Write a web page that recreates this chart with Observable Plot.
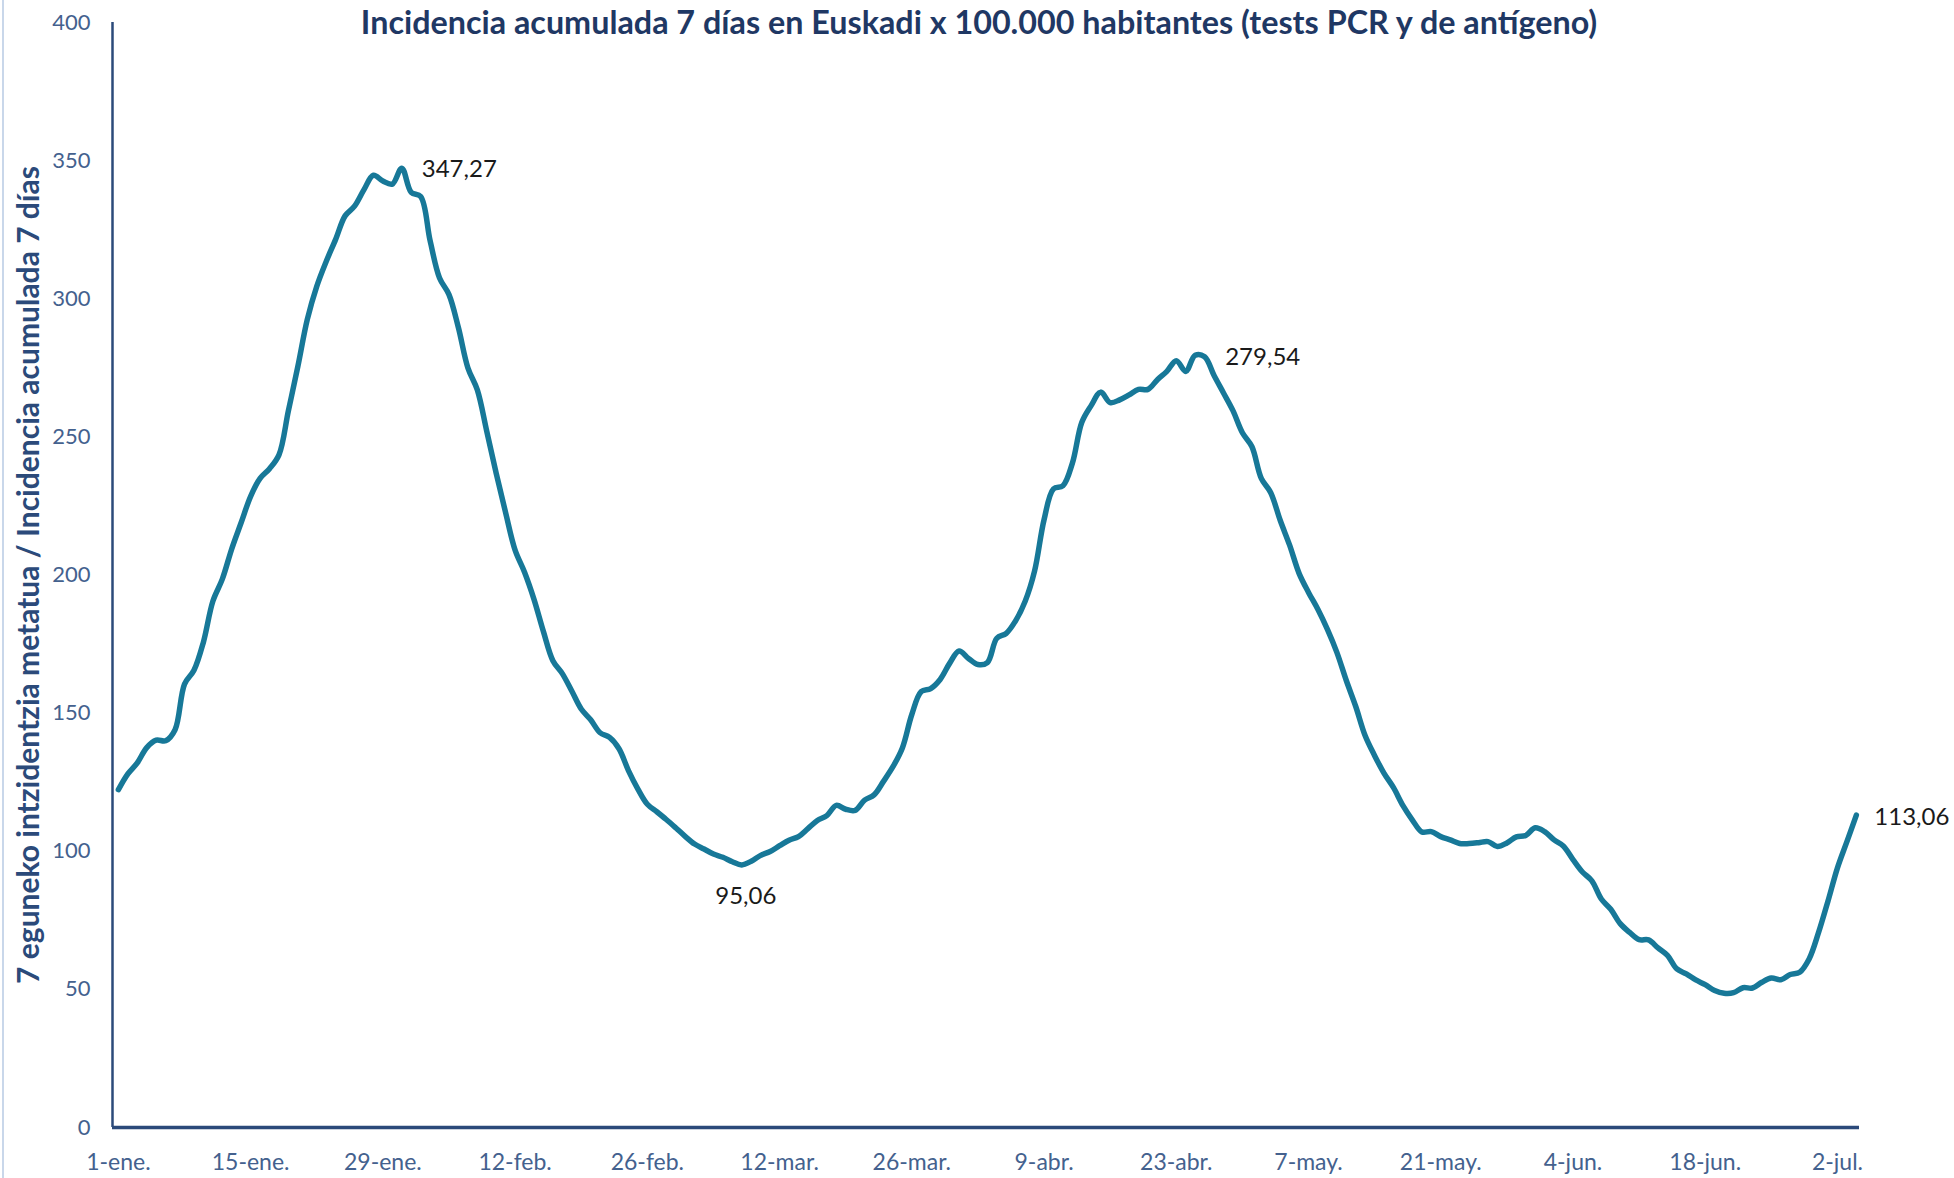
<!DOCTYPE html>
<html><head><meta charset="utf-8">
<script src="https://cdn.jsdelivr.net/npm/d3@7"></script>
<script src="https://cdn.jsdelivr.net/npm/@observablehq/plot@0.6"></script>
<style>
html,body{margin:0;padding:0;background:#fff;overflow:hidden}
#chart{position:relative;width:1954px;height:1178px;overflow:hidden}
</style></head><body><div id="chart"></div>
<script>
const startDate = "2021-01-01";
const values = [
  122.3, 128, 132, 137.5, 140.2, 140, 144, 160.5, 165.5, 175.7,
  190.5, 198.5, 209.5, 219, 228.5, 235, 238.5, 243.5, 259.5, 275.5,
  292.5, 304.5, 313.5, 321.5, 330, 333.5, 339.5, 344.7, 342.6, 341.5,
  347.27, 338.5, 337, 321, 307.5, 301.5, 289.5, 275, 267, 252,
  236.8, 222.5, 209, 201, 191.2, 179.5, 169, 164.3, 158, 151.5,
  147.6, 142.9, 141.2, 137.1, 129.2, 122.5, 117, 114.3, 111.5, 108.5,
  105.4, 102.6, 100.8, 99, 97.8, 96.2, 95.06, 96.4, 98.5, 99.9,
  102, 104, 105.3, 108.2, 111.1, 112.9, 116.6, 115.2, 114.8, 118.5,
  120.4, 125.3, 130.6, 137.4, 149.5, 157.8, 158.9, 162.2, 168, 172.5,
  169.8, 167.6, 168.3, 177.1, 178.9, 183.5, 190.5, 201.5, 220, 231.2,
  232.3, 240.5, 255.3, 261.4, 266.2, 262.4, 263.4, 265.2, 267.2, 267.2,
  270.7, 273.7, 277.6, 273.7, 279.54, 279, 272.2, 265.9, 259.5, 251.5,
  246.5, 235, 229.8, 219.8, 210.8, 200.6, 193.7, 187.5, 180.3, 172,
  161.8, 152.4, 141.8, 134.6, 128.2, 123, 116.5, 111.3, 107, 107.1,
  105.3, 104.1, 102.8, 102.8, 103.1, 103.5, 101.7, 103, 105.2, 105.7,
  108.5, 107.1, 104.1, 101.8, 97, 92.5, 89.3, 82.7, 79, 73.8,
  70.6, 68, 67.9, 65, 62.3, 57.4, 55.6, 53.4, 51.7, 49.6,
  48.6, 48.8, 50.6, 50.5, 52.6, 54.1, 53.5, 55.4, 56.2, 61,
  70.6, 82, 94, 103.5, 113.06
];
const tickDates = ["2021-01-01","2021-01-15","2021-01-29","2021-02-12","2021-02-26","2021-03-12","2021-03-26","2021-04-09","2021-04-23","2021-05-07","2021-05-21","2021-06-04","2021-06-18","2021-07-02"];
const tickLabels = ["1-ene.","15-ene.","29-ene.","12-feb.","26-feb.","12-mar.","26-mar.","9-abr.","23-abr.","7-may.","21-may.","4-jun.","18-jun.","2-jul."];
const yTicks = [0, 50, 100, 150, 200, 250, 300, 350, 400];
const labelDates = ["2021-01-31","2021-03-08","2021-04-25","2021-07-04"];
const labelValues = [347.27, 95.06, 279.54, 113.06];
const labelTexts = ["347,27","95,06","279,54","113,06"];
const titleText = "Incidencia acumulada 7 días en Euskadi x 100.000 habitantes (tests PCR y de antígeno)";
const yTitleText = "7 eguneko intzidentzia metatua / Incidencia acumulada 7 días";

const start = new Date(startDate + "T00:00:00Z");
const rows = values.map((v, i) => ({date: d3.utcDay.offset(start, i), value: v}));
const x0 = d3.utcHour.offset(start, -15);
const x1 = d3.utcHour.offset(rows[rows.length - 1].date, 8);
const fmt = new Map(tickDates.map((d, i) => [+new Date(d + "T00:00:00Z"), tickLabels[i]]));
const labels = labelDates.map((d, i) => ({date: new Date(d + "T00:00:00Z"), value: labelValues[i], text: labelTexts[i]}));
const labelStyle = [
  {dx: 20, dy: 1, textAnchor: "start"},
  {dx: 4, dy: 31, textAnchor: "middle"},
  {dx: 30, dy: 2, textAnchor: "start"},
  {dx: 18, dy: 2, textAnchor: "start"}
];
const axisColor = "#44618E";
const navy = "#2B4A7A";

const plot = Plot.plot({
  width: 1954, height: 1178,
  marginLeft: 112, marginRight: 95, marginTop: 22, marginBottom: 51,
  style: {fontFamily: "Lato, 'Open Sans', sans-serif", fontSize: "22px", background: "white", overflow: "visible"},
  x: {type: "utc", domain: [x0, x1]},
  y: {domain: [0, 400]},
  marks: [
    Plot.axisY({ticks: yTicks, tickSize: 0, tickPadding: 22, color: axisColor, fontSize: 22, label: null}),
    Plot.axisX({ticks: tickDates.map(d => new Date(d + "T00:00:00Z")), tickFormat: d => fmt.get(+d), tickSize: 0, tickPadding: 26, color: axisColor, fontSize: 23, label: null}),
    Plot.ruleX([x0], {stroke: navy, strokeWidth: 2.5}),
    Plot.line(rows, {x: "date", y: "value", stroke: "#177898", strokeWidth: 5.5, curve: "catmull-rom", strokeLinecap: "round", strokeLinejoin: "round"}),
    Plot.ruleY([0], {stroke: navy, strokeWidth: 3.5}),
    ...labels.map((l, i) => Plot.text([l], {x: "date", y: "value", text: "text", fill: "#1a1a1a", fontSize: 24, ...labelStyle[i]}))
  ]
});
const host = document.getElementById("chart");
host.appendChild(plot);

const svg = d3.select(plot);
svg.append("line").attr("x1", 3).attr("x2", 3).attr("y1", 0).attr("y2", 1178)
  .attr("stroke", "#C9D7EA").attr("stroke-width", 2);

function fit(sel, target) {
  const n = sel.node();
  let fs = parseFloat(sel.attr("font-size"));
  for (let k = 0; k < 3; k++) {
    const w = n.getComputedTextLength();
    if (w > 0) { fs = fs * target / w; sel.attr("font-size", fs); }
  }
}
const t = svg.append("text").text(titleText)
  .attr("x", 979).attr("y", 34).attr("text-anchor", "middle")
  .attr("font-weight", "bold").attr("font-size", 27).attr("fill", "#1F3864")
  .attr("font-family", "Lato, 'Open Sans', sans-serif");
fit(t, 1236);
const yt = svg.append("text").text(yTitleText)
  .attr("transform", "translate(39,575) rotate(-90)").attr("text-anchor", "middle")
  .attr("font-weight", "bold").attr("font-size", 24).attr("fill", navy)
  .attr("font-family", "Lato, 'Open Sans', sans-serif");
fit(yt, 818);
</script></body></html>
